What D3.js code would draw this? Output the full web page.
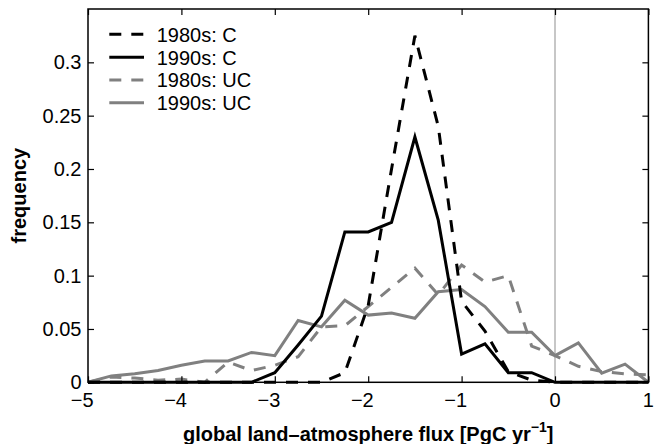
<!DOCTYPE html>
<html>
<head>
<meta charset="utf-8">
<script src="https://cdn.jsdelivr.net/npm/d3@7"></script>
<style>
  html, body { margin: 0; padding: 0; background: #fff; }
  svg { display: block; }
  text { font-family: "Liberation Sans", Arial, Helvetica, sans-serif; fill: #000; }
</style>
</head>
<body>
<svg id="chart" width="655" height="444"></svg>
<script>
// Bin centres of the flux histogram [PgC yr^-1]
const fluxBins = [-5, -4.75, -4.5, -4.25, -4, -3.75, -3.5, -3.25, -3, -2.75, -2.5, -2.25, -2,
                  -1.75, -1.5, -1.25, -1, -0.75, -0.5, -0.25, 0, 0.25, 0.5, 0.75, 1];

// Frequencies per bin for each decade / model set
const freq1980sC  = [0, 0, 0, 0, 0, 0, 0, 0, 0, 0, 0, 0.009, 0.072,
                     0.2, 0.325, 0.24, 0.076, 0.048, 0.01, 0.002, 0, 0, 0, 0, 0];
const freq1990sC  = [0, 0, 0, 0, 0, 0, 0, 0, 0.009, 0.035, 0.062, 0.141, 0.141,
                     0.15, 0.23, 0.152, 0.0265, 0.036, 0.009, 0.009, 0, 0, 0, 0, 0];
const freq1980sUC = [0, 0.005, 0.004, 0.002, 0.003, 0, 0.019, 0.011, 0.016, 0.024, 0.052, 0.053, 0.071,
                     0.089, 0.107, 0.082, 0.11, 0.094, 0.1, 0.034, 0.025, 0.015, 0.01, 0.008, 0.007];
const freq1990sUC = [0, 0.006, 0.008, 0.011, 0.016, 0.02, 0.02, 0.028, 0.025, 0.058, 0.052, 0.077, 0.063,
                     0.065, 0.06, 0.085, 0.087, 0.071, 0.047, 0.047, 0.025, 0.037, 0.0085, 0.017, 0];

const seriesNames = ["1980s: C", "1990s: C", "1980s: UC", "1990s: UC"];

// Axis ticks
const xTicks = [-5, -4, -3, -2, -1, 0, 1];
const yTicks = [0, 0.05, 0.1, 0.15, 0.2, 0.25, 0.3];
const yTickLabels = ["0", "0.05", "0.1", "0.15", "0.2", "0.25", "0.3"];

const series = [
  { name: seriesNames[0], values: freq1980sC,  color: "#000",    dash: "12,10" },
  { name: seriesNames[1], values: freq1990sC,  color: "#000",    dash: null },
  { name: seriesNames[2], values: freq1980sUC, color: "#808080", dash: "12,10" },
  { name: seriesNames[3], values: freq1990sUC, color: "#808080", dash: null }
];

const svg = d3.select("#chart");
const W = 655, H = 444;
const margin = { left: 88, right: 6.6, top: 9, bottom: 61.7 };
const x0 = margin.left, x1 = W - margin.right;
const y0 = H - margin.bottom, y1 = margin.top;

const x = d3.scaleLinear().domain([-5, 1]).range([x0, x1]);
const y = d3.scaleLinear().domain([0, 0.35]).range([y0, y1]);

const fontSize = 20;

// Reference line at zero flux
svg.append("line")
  .attr("x1", x(0)).attr("x2", x(0))
  .attr("y1", y1).attr("y2", y0)
  .attr("stroke", "#b4b4b4").attr("stroke-width", 1.5);

// Histogram lines (grey first, black on top)
const line = d3.line()
  .x((d, i) => x(fluxBins[i]))
  .y(d => y(d));

const drawOrder = [series[2], series[3], series[0], series[1]];
svg.append("g").selectAll("path")
  .data(drawOrder)
  .join("path")
  .attr("d", s => line(s.values))
  .attr("fill", "none")
  .attr("stroke", s => s.color)
  .attr("stroke-width", 3)
  .attr("stroke-linejoin", "miter")
  .attr("stroke-dasharray", s => s.dash);

// Axes: inward ticks on all four sides of the box
const tickLen = 6;
const axisBottom = d3.axisBottom(x).tickValues(xTicks).tickSize(-tickLen).tickFormat("");
const axisTop = d3.axisTop(x).tickValues(xTicks).tickSize(-tickLen).tickFormat("");
const axisLeft = d3.axisLeft(y).tickValues(yTicks).tickSize(-tickLen).tickFormat("");
const axisRight = d3.axisRight(y).tickValues(yTicks).tickSize(-tickLen).tickFormat("");

function styleAxis(g) {
  g.select(".domain").remove();
  g.selectAll(".tick line").attr("stroke", "#000").attr("stroke-width", 1.2);
}
svg.append("g").attr("transform", `translate(0,${y0})`).call(axisBottom).call(styleAxis);
svg.append("g").attr("transform", `translate(0,${y1})`).call(axisTop).call(styleAxis);
svg.append("g").attr("transform", `translate(${x0},0)`).call(axisLeft).call(styleAxis);
svg.append("g").attr("transform", `translate(${x1},0)`).call(axisRight).call(styleAxis);

// Plot frame
svg.append("rect")
  .attr("x", x0).attr("y", y1)
  .attr("width", x1 - x0).attr("height", y0 - y1)
  .attr("fill", "none").attr("stroke", "#000").attr("stroke-width", 1.5);

// X tick labels: the digit sits centred under the tick, the minus hangs to the left
const digitHalf = fontSize * 0.556 / 2;
svg.append("g").selectAll("text")
  .data(xTicks)
  .join("text")
  .attr("x", d => x(d) + digitHalf)
  .attr("y", 406.5)
  .attr("text-anchor", "end")
  .attr("font-size", fontSize)
  .text(d => (d < 0 ? "\u2212" + Math.abs(d) : String(d)));

// Y tick labels
svg.append("g").selectAll("text")
  .data(yTicks)
  .join("text")
  .attr("x", x0 - 6.5)
  .attr("y", d => y(d) + 7)
  .attr("text-anchor", "end")
  .attr("font-size", fontSize)
  .text((d, i) => yTickLabels[i]);

// Axis titles
svg.append("text")
  .attr("transform", `translate(26,${(y0 + y1) / 2}) rotate(-90)`)
  .attr("text-anchor", "middle")
  .attr("font-size", fontSize)
  .attr("font-weight", "bold")
  .text("frequency");

const xTitle = svg.append("text")
  .attr("x", (x0 + x1) / 2)
  .attr("y", 440.5)
  .attr("text-anchor", "middle")
  .attr("font-size", fontSize)
  .attr("font-weight", "bold");
xTitle.append("tspan").text("global land\u2013atmosphere flux [PgC yr");
xTitle.append("tspan").attr("dy", -9).attr("font-size", 14).text("\u22121");
xTitle.append("tspan").attr("dy", 9).text("]");

// Legend
const legendRows = [34.3, 57.3, 80, 102.7];
const legend = svg.append("g");
series.forEach((s, i) => {
  const ly = legendRows[i];
  legend.append("line")
    .attr("x1", 109.3).attr("x2", 144)
    .attr("y1", ly).attr("y2", ly)
    .attr("stroke", s.color).attr("stroke-width", 3)
    .attr("stroke-dasharray", s.dash);
  legend.append("text")
    .attr("x", 156.7).attr("y", ly + 7.2)
    .attr("font-size", fontSize)
    .text(s.name);
});
</script>
</body>
</html>
